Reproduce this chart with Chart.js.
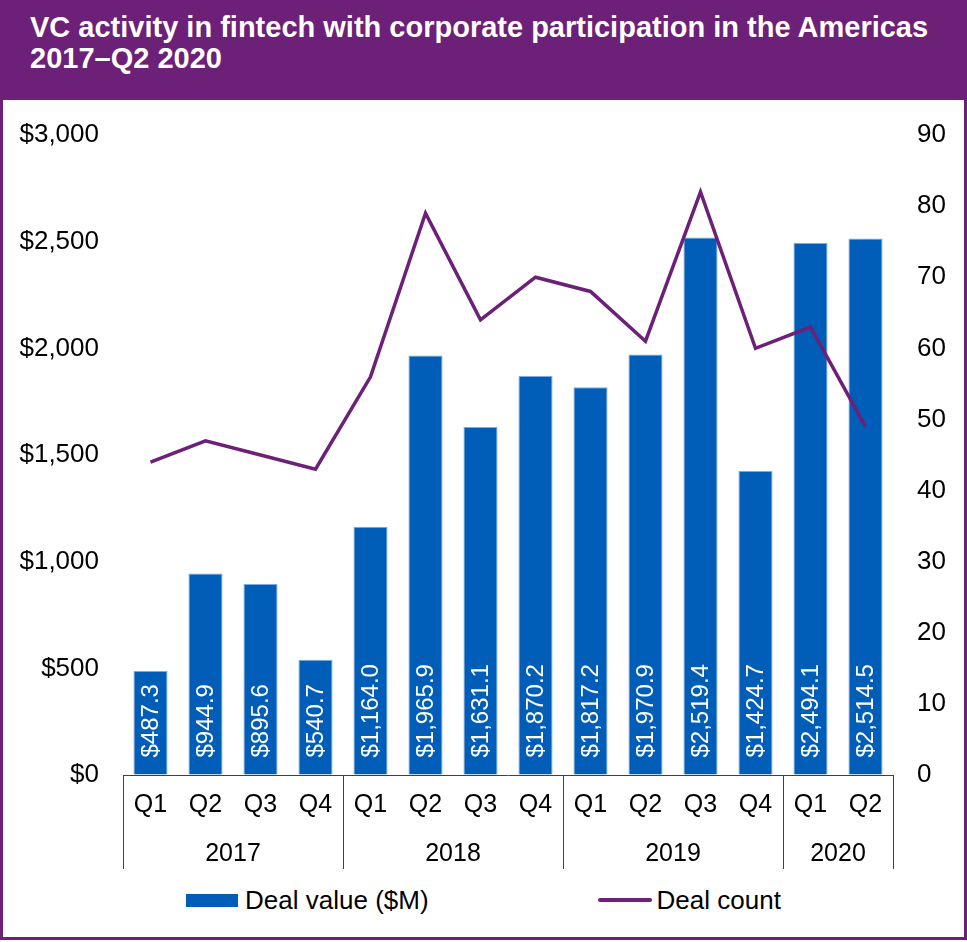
<!DOCTYPE html>
<html>
<head>
<meta charset="utf-8">
<script src="https://cdn.jsdelivr.net/npm/chart.js@4.4.1/dist/chart.umd.min.js"></script>
<style>
    body { margin: 0; background: #fff; }
    #wrap { position: relative; width: 967px; height: 942px; overflow: hidden; font-family: 'Liberation Sans', Arial, sans-serif; }
    #title { position: absolute; left: 0; top: 0; width: 967px; height: 100px; background: #6D2077; color: #fff;
             font-weight: bold; font-size: 29px; line-height: 31px; padding: 12px 0 0 30px; box-sizing: border-box; }
    #frame { position: absolute; left: 0; top: 0; width: 967px; height: 940px; box-sizing: border-box;
             border: 3px solid #6D2077; border-top: none; pointer-events: none; }
    #chartBox { position: absolute; left: 0; top: 100px; width: 967px; height: 780px; }
    #legend { position: absolute; left: 0; top: 886px; width: 967px; height: 28px; display: flex;
              justify-content: center; align-items: center; gap: 169px; font-size: 26px; color: #000; }
    .item { display: flex; align-items: center; white-space: nowrap; }
</style>
</head>
<body>
<div id="wrap">
    <div id="title">VC activity in fintech with corporate participation in the Americas<br>2017–Q2 2020</div>
    <div id="chartBox"><canvas id="chart"></canvas></div>
    <div id="legend"></div>
    <div id="frame"></div>
</div>
<script>
// Data
const quarters = ['Q1', 'Q2', 'Q3', 'Q4', 'Q1', 'Q2', 'Q3', 'Q4', 'Q1', 'Q2', 'Q3', 'Q4', 'Q1', 'Q2'];
const years = ['2017', '2018', '2019', '2020'];
const quartersPerYear = [4, 4, 4, 2];
const dealValue = [487.3, 944.9, 895.6, 540.7, 1164.0, 1965.9, 1631.1, 1870.2, 1817.2, 1970.9, 2519.4, 1424.7, 2494.1, 2514.5];
const dealCount = [44, 47, 45, 43, 56, 79, 64, 70, 68, 61, 82, 60, 63, 49];
const leftTicks = [0, 500, 1000, 1500, 2000, 2500, 3000];
const rightTicks = [0, 10, 20, 30, 40, 50, 60, 70, 80, 90];

const FONT = "'Liberation Sans', Arial, sans-serif";
const BLUE = '#005EB8';
const PURPLE = '#6D2077';

const money = v => '$' + v.toLocaleString('en-US', { minimumFractionDigits: 1, maximumFractionDigits: 1 });

// Rotated value labels inside the bars (drawn before the line goes on top)
const barLabels = {
    id: 'barLabels',
    afterDatasetDraw(chart, args) {
        if (args.meta.type !== 'bar') return;
        const ctx = chart.ctx;
        ctx.save();
        ctx.font = `24px ${FONT}`;
        ctx.fillStyle = '#fff';
        ctx.textAlign = 'left';
        ctx.textBaseline = 'middle';
        args.meta.data.forEach((bar, i) => {
            ctx.save();
            ctx.translate(bar.x, bar.base - 17);
            ctx.rotate(-Math.PI / 2);
            ctx.fillText(money(dealValue[i]), 0, 1);
            ctx.restore();
        });
        ctx.restore();
    }
};

// Year row and the separators below the axis
const yearRow = {
    id: 'yearRow',
    afterDraw(chart) {
        const x = chart.scales.x;
        const ctx = chart.ctx;
        const half = (x.getPixelForValue(1) - x.getPixelForValue(0)) / 2;
        const top = chart.chartArea.bottom;
        ctx.save();
        ctx.strokeStyle = '#404040';
        ctx.lineWidth = 1;
        ctx.font = `25px ${FONT}`;
        ctx.fillStyle = '#000';
        ctx.textAlign = 'center';
        ctx.textBaseline = 'middle';
        let start = 0;
        const edges = [];
        years.forEach((y, g) => {
            const end = start + quartersPerYear[g] - 1;
            const l = x.getPixelForValue(start) - half;
            const r = x.getPixelForValue(end) + half;
            if (g === 0) edges.push(l);
            edges.push(r);
            ctx.fillText(y, (l + r) / 2, top + 79);
            start = end + 1;
        });
        edges.forEach(e => {
            const px = Math.round(e) + 0.5;
            ctx.beginPath();
            ctx.moveTo(px, top);
            ctx.lineTo(px, top + 94);
            ctx.stroke();
        });
        ctx.restore();
    }
};

// invisible tick marks keep the labels 24px off the plot without padding the top
const hiddenTicks = { display: true, drawOnChartArea: false, drawTicks: true, tickLength: 20, tickColor: 'rgba(0,0,0,0)' };

const chart = new Chart(document.getElementById('chart'), {
    type: 'bar',
    data: {
        labels: quarters,
        datasets: [
            {
                type: 'bar',
                label: 'Deal value ($M)',
                data: dealValue,
                yAxisID: 'y',
                backgroundColor: BLUE,
                borderColor: '#7AAAE0',
                borderWidth: 1,
                barPercentage: 0.62,
                categoryPercentage: 1,
                order: 1
            },
            {
                type: 'line',
                label: 'Deal count',
                data: dealCount,
                yAxisID: 'y1',
                borderColor: PURPLE,
                backgroundColor: PURPLE,
                borderWidth: 3.5,
                pointRadius: 0,
                tension: 0,
                order: 0
            }
        ]
    },
    options: {
        responsive: true,
        maintainAspectRatio: false,
        animation: false,
        layout: { padding: { top: 35, left: 0, right: 0, bottom: 0 } },
        plugins: {
            legend: { display: false },
            tooltip: { enabled: false }
        },
        scales: {
            x: {
                grid: { display: false },
                border: { display: true, color: '#404040', width: 1 },
                ticks: { color: '#000', font: { family: FONT, size: 25 }, padding: 7, maxRotation: 0 },
                afterFit(scale) { scale.height = 105; }
            },
            y: {
                position: 'left',
                min: 0,
                max: 3000,
                afterBuildTicks(scale) { scale.ticks = leftTicks.map(v => ({ value: v })); },
                grid: hiddenTicks,
                border: { display: false },
                ticks: {
                    color: '#000',
                    font: { family: FONT, size: 26 },
                    padding: 4,
                    callback: v => '$' + v.toLocaleString('en-US')
                },
                afterFit(scale) { scale.width = 123; }
            },
            y1: {
                position: 'right',
                min: 0,
                max: 90,
                afterBuildTicks(scale) { scale.ticks = rightTicks.map(v => ({ value: v })); },
                grid: hiddenTicks,
                border: { display: false },
                ticks: { color: '#000', font: { family: FONT, size: 26 }, padding: 4 },
                afterFit(scale) { scale.width = 74; }
            }
        }
    },
    plugins: [barLabels, yearRow]
});

// HTML legend built from the chart's own legend items
const legendBox = document.getElementById('legend');
const items = Chart.defaults.plugins.legend.labels.generateLabels(chart);
const byLabel = ['Deal value ($M)', 'Deal count'];
byLabel.forEach(name => {
    const it = items.find(d => d.text === name);
    const ds = chart.data.datasets[it.datasetIndex];
    const el = document.createElement('div');
    el.className = 'item';
    const swatch = document.createElement('span');
    if (ds.type === 'bar') {
        swatch.style.cssText = `display:inline-block;width:52px;height:13px;background:${it.fillStyle};margin-right:7px;`;
    } else {
        swatch.style.cssText = `display:inline-block;width:54px;height:3.5px;background:${it.strokeStyle};margin-right:5px;border-radius:2px;`;
    }
    el.appendChild(swatch);
    el.appendChild(document.createTextNode(it.text));
    legendBox.appendChild(el);
});
</script>
</body>
</html>
